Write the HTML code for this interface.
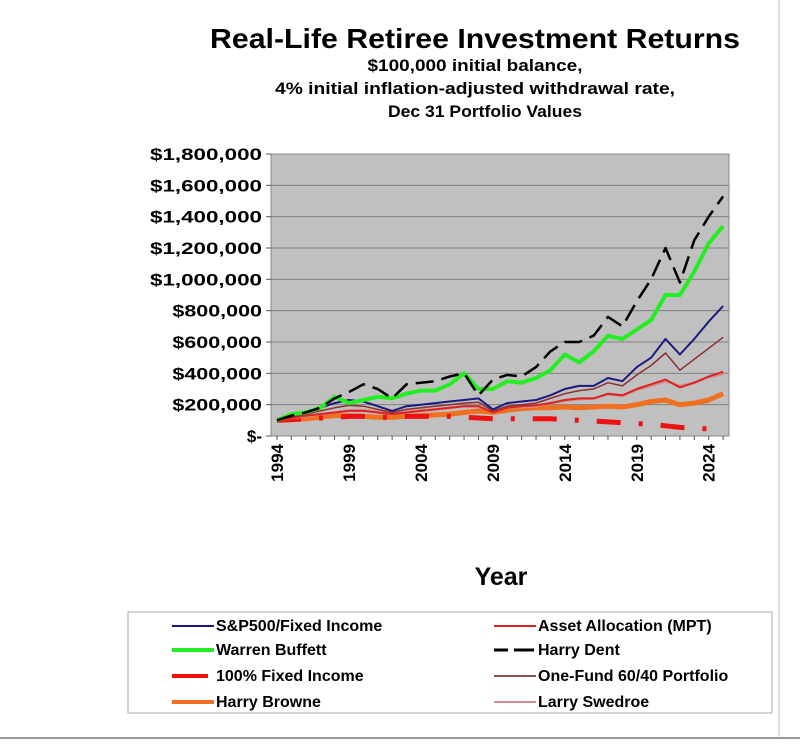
<!DOCTYPE html>
<html><head><meta charset="utf-8"><style>
body{margin:0;background:#fff;width:800px;height:743px;overflow:hidden;font-family:"Liberation Sans",Arial,sans-serif}
</style></head><body>
<svg id="s" width="800" height="743" xmlns="http://www.w3.org/2000/svg" font-family="Liberation Sans, Arial, sans-serif">
<line x1="0" y1="738" x2="800" y2="738" stroke="#999" stroke-width="2"/>
<line x1="779" y1="0" x2="779" y2="738" stroke="#bbb" stroke-width="1"/>
<text x="475" y="48" font-size="28" font-weight="bold" text-anchor="middle" textLength="530" lengthAdjust="spacingAndGlyphs">Real-Life Retiree Investment Returns</text>
<text x="475" y="71" font-size="17" font-weight="bold" text-anchor="middle" textLength="215" lengthAdjust="spacingAndGlyphs">$100,000 initial balance,</text>
<text x="475" y="94" font-size="17" font-weight="bold" text-anchor="middle" textLength="400" lengthAdjust="spacingAndGlyphs">4% initial inflation-adjusted withdrawal rate,</text>
<text x="485" y="117" font-size="17" font-weight="bold" text-anchor="middle" textLength="194" lengthAdjust="spacingAndGlyphs">Dec 31 Portfolio Values</text>
<rect x="271" y="154" width="458" height="282" fill="#c0c0c0" stroke="#888"/>
<g id="grid"></g>
<g id="series"></g>
<text x="501" y="585" font-size="25" font-weight="bold" text-anchor="middle">Year</text>
<rect x="128" y="612" width="644" height="101" fill="#fff" stroke="#aaa"/>
<g font-size="16" font-weight="bold">
<line x1="172" y1="626" x2="214" y2="626" stroke="#1a1a80" stroke-width="2"/><text x="216" y="631">S&amp;P500/Fixed Income</text>
<line x1="172" y1="650" x2="214" y2="650" stroke="#22ee22" stroke-width="4"/><text x="216" y="655">Warren Buffett</text>
<line x1="172" y1="676" x2="208" y2="676" stroke="#ee1111" stroke-width="4"/><text x="216" y="681">100% Fixed Income</text>
<line x1="172" y1="702" x2="214" y2="702" stroke="#f07020" stroke-width="4"/><text x="216" y="707">Harry Browne</text>
<line x1="494" y1="626" x2="536" y2="626" stroke="#dd2222" stroke-width="2"/><text x="538" y="631">Asset Allocation (MPT)</text>
<line x1="494" y1="650" x2="536" y2="650" stroke="#000" stroke-width="3" stroke-dasharray="14,6,6,0"/><text x="538" y="655">Harry Dent</text>
<line x1="494" y1="676" x2="536" y2="676" stroke="#8a5050" stroke-width="2"/><text x="538" y="681">One-Fund 60/40 Portfolio</text>
<line x1="494" y1="702" x2="536" y2="702" stroke="#d09090" stroke-width="2"/><text x="538" y="707">Larry Swedroe</text>
</g>
</svg>
<script>
var NS="http://www.w3.org/2000/svg",s=document.getElementById('s');
function el(t,a,p,txt){var e=document.createElementNS(NS,t);for(var k in a)e.setAttribute(k,a[k]);if(txt)e.textContent=txt;(p||s).appendChild(e);return e;}
var g=document.getElementById('grid'),ser=document.getElementById('series');
function Y(v){return 436-v/1800*282;}
function X(i){return 277+i*14.39;}
var labs=["$-","$200,000","$400,000","$600,000","$800,000","$1,000,000","$1,200,000","$1,400,000","$1,600,000","$1,800,000"];
for(var i=0;i<=9;i++){var y=Y(i*200);
 if(i>0&&i<9)el('line',{x1:271,x2:729,y1:y,y2:y,stroke:'#808080','stroke-width':1},g);
 el('line',{x1:266,x2:271,y1:y,y2:y,stroke:'#555'},g);
 var a={x:262,y:y+6,'font-size':17,'font-weight':'bold','text-anchor':'end'};
 if(i>0){a.textLength=labs[i].length*11.2;a.lengthAdjust='spacingAndGlyphs';}
 el('text',a,g,labs[i]);}
for(var i=0;i<32;i++){el('line',{x1:X(i),x2:X(i),y1:436,y2:440,stroke:'#555'},g);
 if(i%5==0){el('text',{x:0,y:0,'font-size':17,'font-weight':'bold','text-anchor':'end',transform:'translate('+(X(i)+6)+',444) rotate(-90)'},g,String(1994+i));}}
var D=[
["#f07020",5,"",[100,105,110,120,130,130,125,120,120,125,130,135,140,150,160,150,165,175,180,180,185,180,185,190,185,200,220,230,200,210,230,270]],
["#ee1111",5,"24,18,4,18",[100,105,110,115,120,125,125,120,120,125,125,125,125,120,115,110,110,110,110,110,105,100,95,90,85,80,75,65,55,50,45,40]],
["#d09090",2.5,"",[100,115,125,140,150,165,165,155,140,155,165,170,180,190,190,155,180,185,190,210,225,235,240,265,255,295,320,350,320,340,375,395]],
["#dd2222",2,"",[100,115,130,140,150,160,160,150,140,150,160,170,180,190,190,150,180,190,195,210,230,240,240,270,260,300,330,360,310,340,380,410]],
["#8a3030",1.5,"",[100,120,140,160,180,195,190,170,150,170,180,190,200,210,215,160,190,200,210,240,270,290,300,340,320,390,450,530,420,490,560,630]],
["#1a1a80",2,"",[100,130,150,180,210,230,220,190,160,190,200,210,220,230,240,170,210,220,230,260,300,320,320,370,350,440,500,620,520,620,730,830]],
["#22ee22",4,"",[100,140,150,180,250,210,230,250,240,270,290,290,330,400,300,300,350,340,370,420,520,470,540,640,620,680,740,900,900,1050,1230,1340]],
["#000000",2.5,"18,8",[100,130,150,180,240,280,330,300,240,330,340,350,380,400,260,360,390,380,440,540,600,600,640,760,700,860,1000,1200,980,1250,1400,1530]]];
D.forEach(function(d){var p=d[3].map(function(v,i){return X(i).toFixed(1)+','+Y(v).toFixed(1)}).join(' ');
 var a={points:p,fill:'none',stroke:d[0],'stroke-width':d[1],'stroke-linejoin':'round'};if(d[2])a['stroke-dasharray']=d[2];
 el('polyline',a,ser);});
</script>
</body></html>
